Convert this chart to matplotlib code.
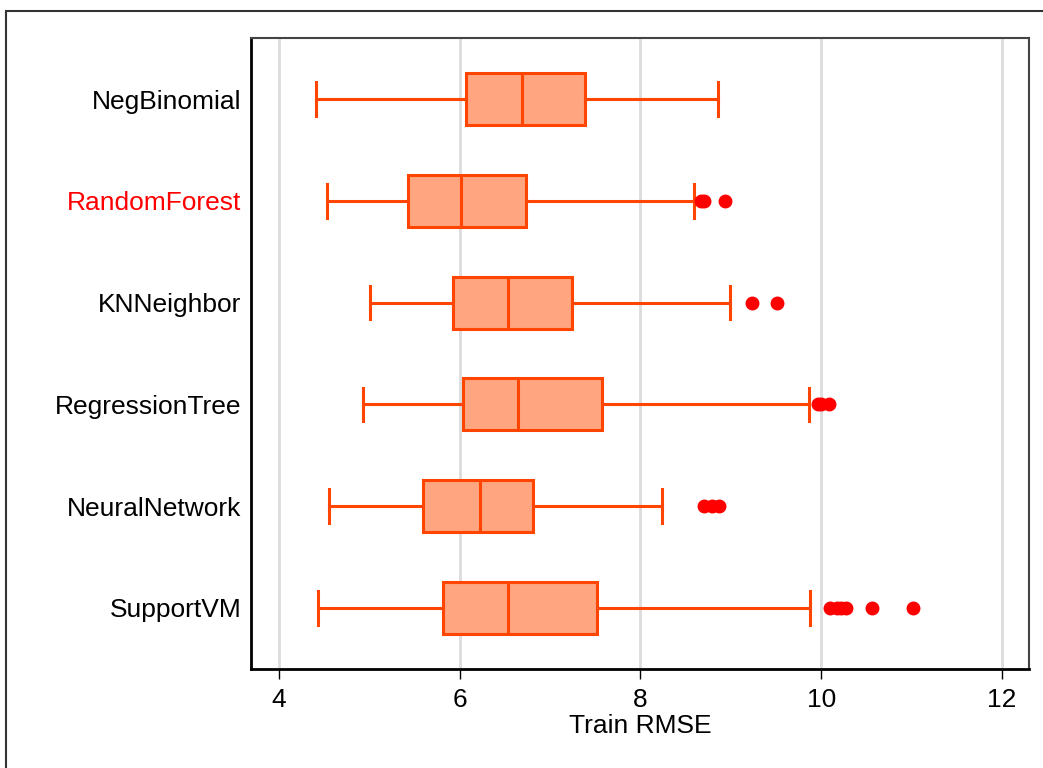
import matplotlib
matplotlib.use("Agg")
from matplotlib import pyplot as plt
from matplotlib.patches import Rectangle

plt.rcParams['font.family'] = ['Liberation Sans', 'DejaVu Sans']

# models, top to bottom
models = ["NegBinomial", "RandomForest", "KNNeighbor",
          "RegressionTree", "NeuralNetwork", "SupportVM"]

# box plot summaries (Train RMSE)
whislo = [4.41, 4.53, 5.01, 4.93, 4.55, 4.43]
q1 = [6.07, 5.43, 5.92, 6.04, 5.59, 5.81]
med = [6.69, 6.01, 6.53, 6.64, 6.22, 6.53]
q3 = [7.39, 6.73, 7.24, 7.57, 6.81, 7.52]
whishi = [8.86, 8.59, 8.99, 9.86, 8.24, 9.88]
fliers = [
    [],
    [8.67, 8.70, 8.94],
    [9.24, 9.51],
    [9.96, 10.0, 10.09],
    [8.70, 8.79, 8.87],
    [10.10, 10.17, 10.22, 10.28, 10.56, 11.02],
]

stats = []
for i, m in enumerate(models):
    stats.append(dict(label=m, whislo=whislo[i], q1=q1[i], med=med[i],
                      q3=q3[i], whishi=whishi[i], fliers=fliers[i]))

edge = "#ff4500"
fill = "#ffa57f"

fig = plt.figure(figsize=(10.43, 7.68), dpi=100)
ax = fig.add_axes([251/1043, 1 - 669/768, (1029 - 251)/1043, (669 - 38)/768])

# outer frame like the Stata graph region
fig.patches.append(Rectangle((6/1043, -0.1), 1.2, 1.1 - 11/768,
                             transform=fig.transFigure, fill=False,
                             edgecolor="#333333", linewidth=1.5))

ax.bxp(stats, positions=range(1, len(models) + 1), vert=False, widths=0.51,
       patch_artist=True, showfliers=True,
       boxprops=dict(facecolor=fill, edgecolor=edge, linewidth=2.2),
       medianprops=dict(color=edge, linewidth=2.2),
       whiskerprops=dict(color=edge, linewidth=2.2),
       capprops=dict(color=edge, linewidth=2.2),
       capwidths=0.33,
       flierprops=dict(marker="o", markerfacecolor="red", markeredgecolor="red",
                       markersize=9))

ax.set_xlim(3.69, 12.30)
ax.set_ylim(6.6, 0.4)
ax.set_xticks([4, 6, 8, 10, 12])
ax.grid(axis="x", color="#dcdcdc", linewidth=2)
ax.set_axisbelow(True)

ax.tick_params(axis="x", labelsize=19, length=7, width=1, direction="out", pad=7)
ax.tick_params(axis="y", labelsize=19, length=0, pad=7)
ax.set_xlabel("Train RMSE", fontsize=19, labelpad=1)
ax.get_yticklabels()[1].set_color("red")

for s in ["left", "bottom"]:
    ax.spines[s].set_color("black")
    ax.spines[s].set_linewidth(2)
for s in ["top", "right"]:
    ax.spines[s].set_color("#444444")
    ax.spines[s].set_linewidth(1.5)

fig.savefig("out.png", dpi=100)
